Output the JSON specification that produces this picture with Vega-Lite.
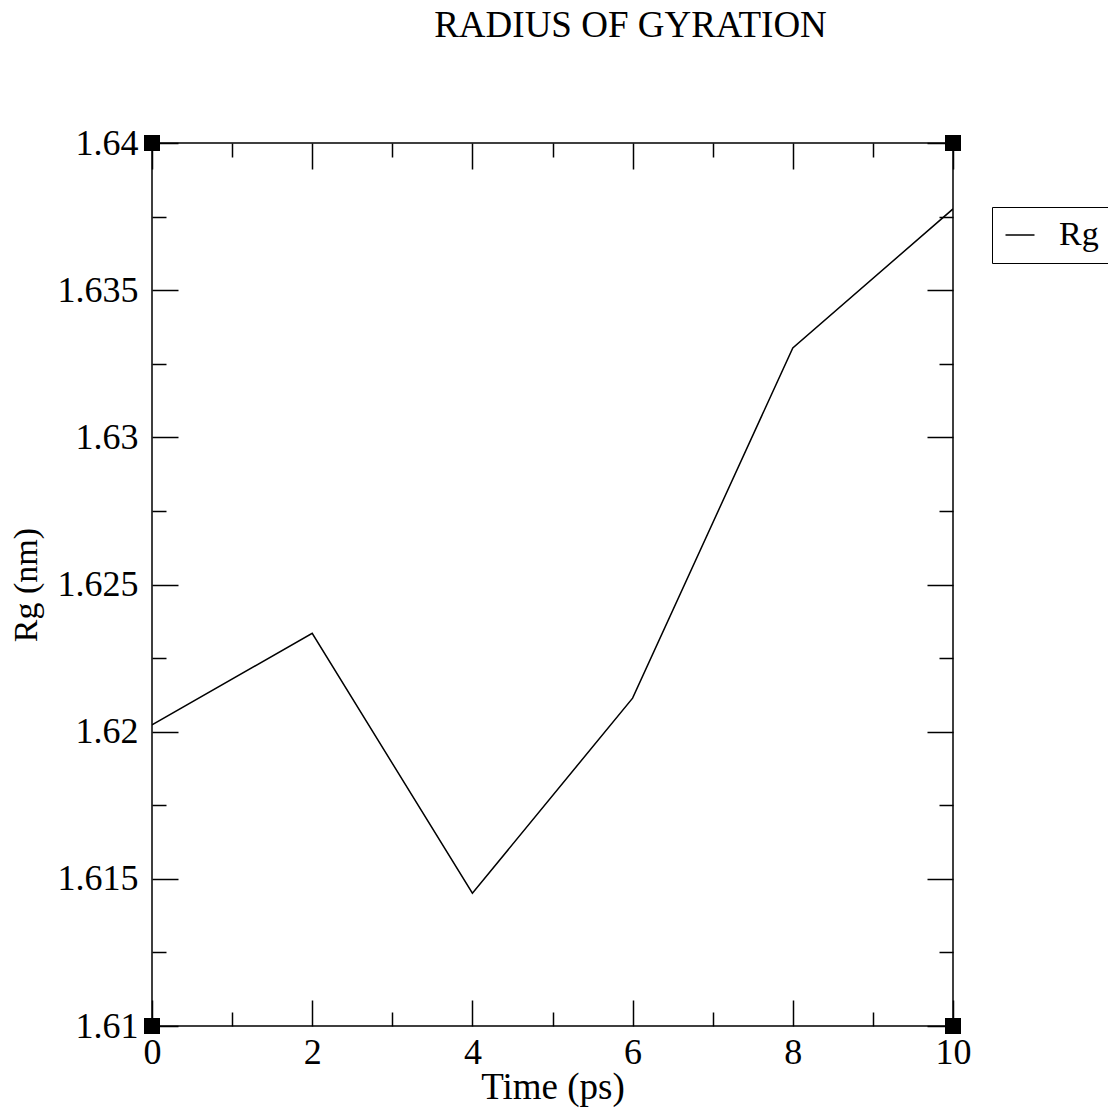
{
  "$schema": "https://vega.github.io/schema/vega-lite/v6.json",
  "width": 801,
  "height": 883,
  "autosize": "none",
  "padding": {"left": 152, "top": 143, "right": 155, "bottom": 83},
  "background": "white",
  "title": {
    "text": "RADIUS OF GYRATION",
    "font": "Liberation Serif",
    "fontSize": 37,
    "fontWeight": "normal",
    "color": "black",
    "anchor": "middle",
    "dx": 78,
    "offset": 80
  },
  "datasets": {
    "rg": [
      {"time": 0, "rg": 1.62023, "series": "Rg"},
      {"time": 2, "rg": 1.62334, "series": "Rg"},
      {"time": 4, "rg": 1.61451, "series": "Rg"},
      {"time": 6, "rg": 1.62114, "series": "Rg"},
      {"time": 8, "rg": 1.63304, "series": "Rg"},
      {"time": 10, "rg": 1.63776, "series": "Rg"}
    ],
    "corners": [
      {"time": 0, "rg": 1.61},
      {"time": 10, "rg": 1.61},
      {"time": 0, "rg": 1.64},
      {"time": 10, "rg": 1.64}
    ]
  },
  "layer": [
    {
      "data": {"name": "rg"},
      "mark": {"type": "line", "strokeWidth": 1.5, "clip": true},
      "encoding": {
        "x": {
          "field": "time", "type": "quantitative",
          "scale": {"domain": [0, 10], "nice": false, "zero": false},
          "axis": {
            "orient": "bottom", "title": "Time (ps)",
            "values": [0, 2, 4, 6, 8, 10],
            "tickSize": -26, "labelPadding": 35, "titlePadding": -1,
            "titleFontSize": 37,
            "labelFlush": false
          }
        },
        "y": {
          "field": "rg", "type": "quantitative",
          "scale": {"domain": [1.61, 1.64], "nice": false, "zero": false},
          "axis": {
            "orient": "left", "title": "Rg (nm)",
            "values": [1.61, 1.615, 1.62, 1.625, 1.63, 1.635, 1.64],
            "format": "~g",
            "tickSize": -26, "labelPadding": 40, "titlePadding": 14,
            "labelFlush": false
          }
        },
        "color": {
          "field": "series", "type": "nominal",
          "scale": {"range": ["black"]},
          "legend": {
            "title": null,
            "orient": "none",
            "legendX": 840,
            "legendY": 64,
            "padding": 11,
            "symbolOffset": 0,
            "symbolType": "stroke",
            "symbolSize": 841,
            "symbolStrokeWidth": 1.5,
            "symbolStrokeColor": "black",
            "labelFont": "Liberation Serif",
            "labelFontSize": 34,
            "labelColor": "black",
            "labelOffset": 22,
            "strokeColor": "black",
            "fillColor": "white"
          }
        }
      }
    },
    {
      "data": {"name": "rg"},
      "mark": {"type": "line", "strokeOpacity": 0},
      "encoding": {
        "x": {
          "field": "time", "type": "quantitative",
          "scale": {"domain": [0, 10], "nice": false, "zero": false},
          "axis": {"orient": "bottom", "title": null, "labels": false, "values": [1, 3, 5, 7, 9], "tickSize": -14}
        },
        "y": {
          "field": "rg", "type": "quantitative",
          "scale": {"domain": [1.61, 1.64], "nice": false, "zero": false},
          "axis": {"orient": "left", "title": null, "labels": false, "values": [1.6125, 1.6175, 1.6225, 1.6275, 1.6325, 1.6375], "tickSize": -14}
        }
      }
    },
    {
      "data": {"name": "rg"},
      "mark": {"type": "line", "strokeOpacity": 0},
      "encoding": {
        "x": {
          "field": "time", "type": "quantitative",
          "scale": {"domain": [0, 10], "nice": false, "zero": false},
          "axis": {"orient": "top", "title": null, "labels": false, "values": [0, 2, 4, 6, 8, 10], "tickSize": -26}
        },
        "y": {
          "field": "rg", "type": "quantitative",
          "scale": {"domain": [1.61, 1.64], "nice": false, "zero": false},
          "axis": {"orient": "right", "title": null, "labels": false, "values": [1.61, 1.615, 1.62, 1.625, 1.63, 1.635, 1.64], "tickSize": -26}
        }
      }
    },
    {
      "data": {"name": "rg"},
      "mark": {"type": "line", "strokeOpacity": 0},
      "encoding": {
        "x": {
          "field": "time", "type": "quantitative",
          "scale": {"domain": [0, 10], "nice": false, "zero": false},
          "axis": {"orient": "top", "title": null, "labels": false, "values": [1, 3, 5, 7, 9], "tickSize": -14}
        },
        "y": {
          "field": "rg", "type": "quantitative",
          "scale": {"domain": [1.61, 1.64], "nice": false, "zero": false},
          "axis": {"orient": "right", "title": null, "labels": false, "values": [1.6125, 1.6175, 1.6225, 1.6275, 1.6325, 1.6375], "tickSize": -14}
        }
      }
    },
    {
      "data": {"name": "corners"},
      "mark": {"type": "point", "shape": "square", "filled": true, "size": 256, "color": "black", "opacity": 1},
      "encoding": {
        "x": {"field": "time", "type": "quantitative", "scale": {"domain": [0, 10], "nice": false, "zero": false}, "axis": null},
        "y": {"field": "rg", "type": "quantitative", "scale": {"domain": [1.61, 1.64], "nice": false, "zero": false}, "axis": null}
      }
    }
  ],
  "resolve": {"axis": {"x": "independent", "y": "independent"}},
  "config": {
    "view": {"stroke": "black", "strokeWidth": 1.5},
    "axis": {
      "domain": false,
      "grid": false,
      "labelFont": "Liberation Serif",
      "titleFont": "Liberation Serif",
      "labelFontSize": 36,
      "titleFontSize": 34,
      "titleFontWeight": "normal",
      "labelColor": "black",
      "titleColor": "black",
      "tickColor": "black",
      "tickWidth": 1.5
    }
  }
}
